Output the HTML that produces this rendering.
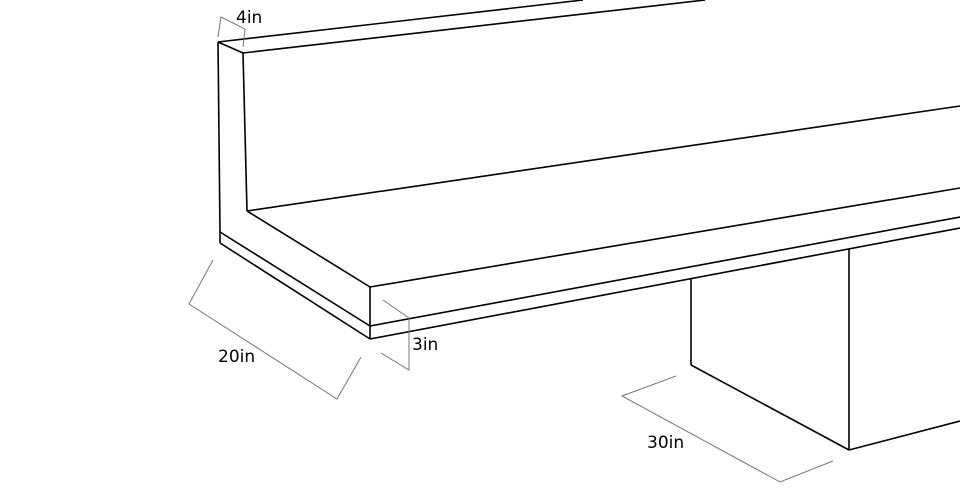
<!DOCTYPE html>
<html><head><meta charset="utf-8"><style>html,body{margin:0;padding:0;background:#fff}svg{display:block}</style></head>
<body>
<svg width="960" height="494" viewBox="0 0 960 494" xmlns="http://www.w3.org/2000/svg">
<g fill="none" stroke="#000" stroke-width="1.6" stroke-linejoin="round">
<line x1="218" y1="42" x2="583" y2="0"/>
<line x1="243" y1="53" x2="705" y2="0"/>
<line x1="218" y1="42" x2="243" y2="53"/>
<polyline points="218,42 220,232 220,243"/>
<line x1="243" y1="53" x2="247" y2="211"/>
<line x1="247" y1="211" x2="960" y2="106"/>
<line x1="247" y1="211" x2="370" y2="287"/>
<line x1="370" y1="287" x2="960" y2="188"/>
<line x1="220" y1="232" x2="370" y2="326"/>
<line x1="370" y1="326" x2="960" y2="217"/>
<line x1="220" y1="243" x2="370" y2="339"/>
<line x1="370" y1="339" x2="960" y2="228"/>
<line x1="370" y1="287" x2="370" y2="339"/>
<line x1="691" y1="279" x2="691" y2="365"/>
<line x1="691" y1="365" x2="849" y2="450"/>
<line x1="849" y1="249" x2="849" y2="450"/>
<line x1="849" y1="450" x2="960" y2="421"/>
</g>
<g fill="none" stroke="#777" stroke-width="1">
<polyline points="218,37 221,17 245,29 243,47"/>
<polyline points="213,260 189,304 337,399 361,357"/>
<polyline points="383,300 409,318 409,370 381,353"/>
<polyline points="676,376 622,396 780,482 833,461"/>
</g>
<g font-family="'DejaVu Sans','Liberation Sans',sans-serif" font-size="17" fill="#000">
<text x="236" y="23">4in</text>
<text x="218" y="362">20in</text>
<text x="412" y="350">3in</text>
<text x="647" y="448">30in</text>
</g>
</svg>
</body></html>
